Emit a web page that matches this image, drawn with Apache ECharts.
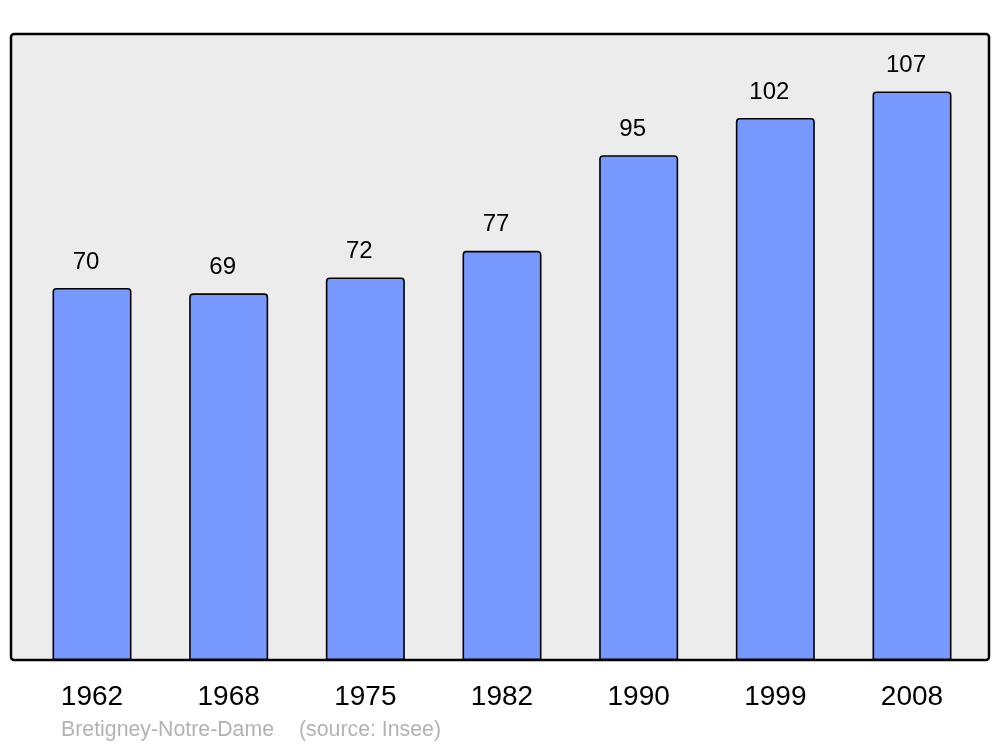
<!DOCTYPE html>
<html>
<head>
<meta charset="utf-8">
<script src="https://cdn.jsdelivr.net/npm/echarts@6/dist/echarts.min.js"></script>
<style>html,body{margin:0;padding:0;background:#fff}#c{width:1000px;height:747px}</style>
</head>
<body>
<div id="c"></div>
<script>
const years = ['1962', '1968', '1975', '1982', '1990', '1999', '2008'];
const population = [70, 69, 72, 77, 95, 102, 107];
const placeName = 'Bretigney-Notre-Dame';
const sourceText = '(source: Insee)';

const chart = echarts.init(document.getElementById('c'), null, {renderer: 'canvas'});
const srcFont = '21.3px "Liberation Sans", Arial, sans-serif';
chart.setOption({
  animation: false,
  backgroundColor: '#ffffff',
  graphic: [
    {type: 'rect', z: -10, shape: {x: 11, y: 34, width: 978, height: 626, r: 3},
     style: {fill: '#ececec', stroke: '#000', lineWidth: 2.5}},
    {type: 'text', left: 61, top: 720, style: {text: placeName, fill: '#b3b3b3', font: srcFont}},
    {type: 'text', left: 299, top: 720, style: {text: sourceText, fill: '#b3b3b3', font: srcFont}}
  ],
  grid: {left: 23.67, width: 956.67, top: 34, bottom: 87},
  xAxis: {
    type: 'category', data: years,
    axisLine: {show: false}, axisTick: {show: false},
    axisLabel: {color: '#000', fontSize: 28, fontFamily: '"Liberation Sans", Arial, sans-serif', margin: 23}
  },
  yAxis: {type: 'value', min: 0, max: 117.8, show: false, splitLine: {show: false}},
  series: [{
    type: 'bar', data: population, barWidth: 79,
    itemStyle: {color: '#7799ff', borderColor: '#000', borderWidth: 1.6, borderRadius: [3, 3, 0, 0]},
    label: {show: true, position: 'top', distance: 14, offset: [-6, 0], color: '#000', fontSize: 24,
            fontFamily: '"Liberation Sans", Arial, sans-serif'}
  }]
});
</script>
</body>
</html>
